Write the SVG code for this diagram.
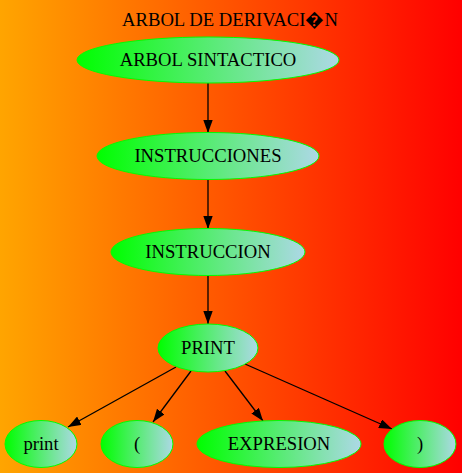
<svg xmlns="http://www.w3.org/2000/svg" width="462" height="473" viewBox="0 0 462 473">
<defs>
<linearGradient id="bg" x1="0" y1="0" x2="1" y2="0"><stop offset="0" stop-color="#ffa500"/><stop offset="1" stop-color="#ff0000"/></linearGradient>
<linearGradient id="ng" x1="0" y1="0" x2="1" y2="0"><stop offset="0" stop-color="#00ff00"/><stop offset="1" stop-color="#add8e6"/></linearGradient>
<marker id="ah" markerWidth="13" markerHeight="9.4" refX="13" refY="4.7" orient="auto" markerUnits="userSpaceOnUse"><polygon points="0,0 13,4.7 0,9.4" fill="#000"/></marker>
<style>
.n ellipse{fill:url(#ng);stroke:#00ff00;stroke-width:1}
text{font-family:"Liberation Serif","Times New Roman",serif;font-size:18.67px;fill:#000;text-anchor:middle}
.e line{stroke:#000;stroke-width:1.3;marker-end:url(#ah)}
</style>
</defs>
<rect x="0" y="0" width="462" height="473" fill="url(#bg)"/>
<text x="230" y="26">ARBOL DE DERIVACI&#xFFFD;N</text>
<g class="e" id="edges">
<line x1="208" y1="83" x2="208" y2="133"/>
<line x1="208" y1="180" x2="208" y2="229"/>
<line x1="208" y1="276" x2="208" y2="324"/>
<line x1="176" y1="367" x2="68" y2="427"/>
<line x1="191" y1="371" x2="153" y2="422"/>
<line x1="225" y1="371" x2="263" y2="421"/>
<line x1="245" y1="364" x2="392" y2="429"/>
</g>
<g class="n" id="n_arbol"><ellipse cx="208" cy="60" rx="131" ry="23"/><text x="208" y="66">ARBOL SINTACTICO</text></g>
<g class="n" id="n_instrucciones"><ellipse cx="208" cy="156" rx="111" ry="23.5"/><text x="208" y="162">INSTRUCCIONES</text></g>
<g class="n" id="n_instruccion"><ellipse cx="208" cy="252" rx="97" ry="23.5"/><text x="208" y="258">INSTRUCCION</text></g>
<g class="n" id="n_print"><ellipse cx="208" cy="348" rx="50" ry="24"/><text x="208" y="354">PRINT</text></g>
<g class="n" id="n_printkw"><ellipse cx="41" cy="444" rx="36" ry="23.5"/><text x="41" y="450">print</text></g>
<g class="n" id="n_lpar"><ellipse cx="137" cy="444" rx="36" ry="23.5"/><text x="137" y="450">(</text></g>
<g class="n" id="n_expresion"><ellipse cx="279" cy="444" rx="82" ry="23.5"/><text x="279" y="450">EXPRESION</text></g>
<g class="n" id="n_rpar"><ellipse cx="420" cy="444" rx="36" ry="23.5"/><text x="420" y="450">)</text></g>
</svg>
